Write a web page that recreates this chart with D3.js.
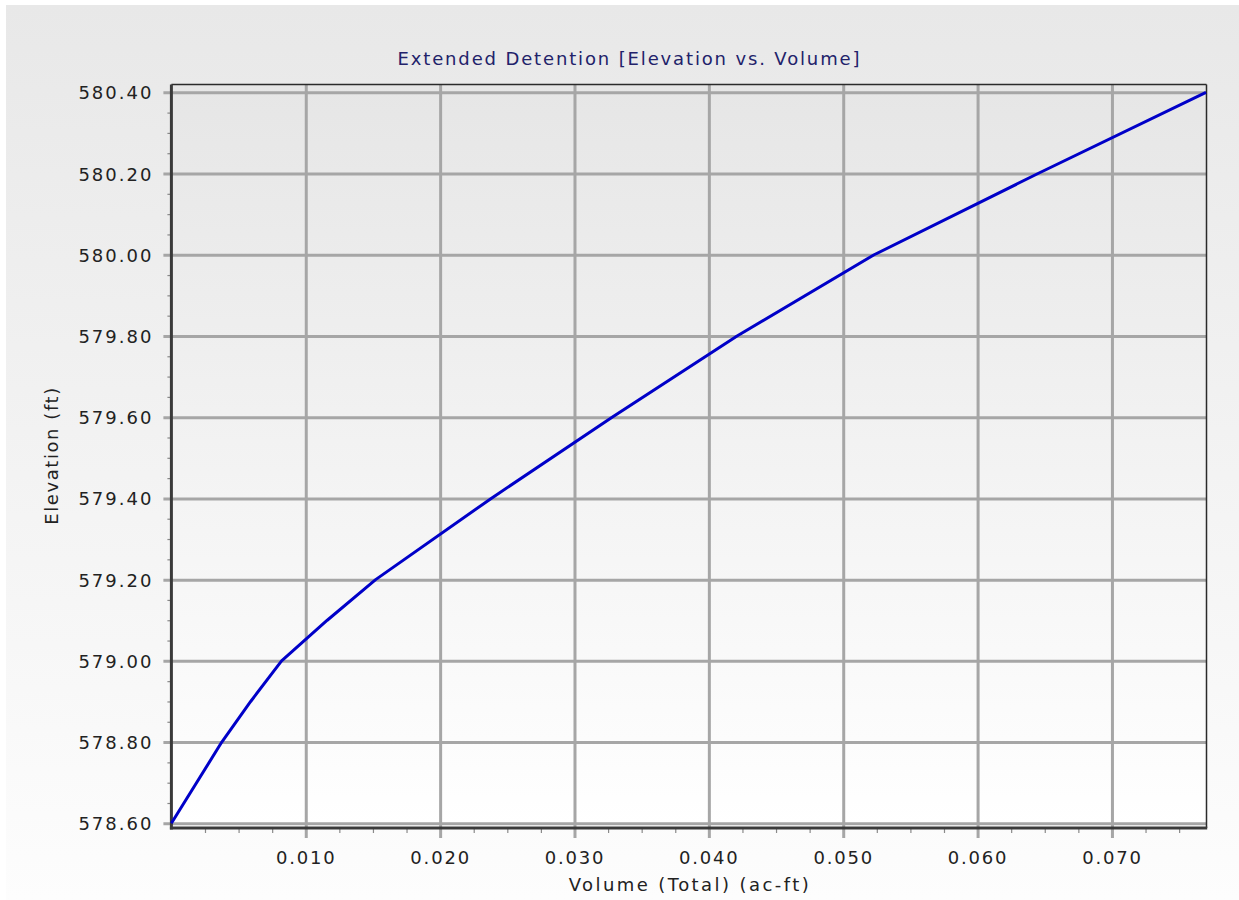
<!DOCTYPE html>
<html>
<head>
<meta charset="utf-8">
<script src="https://cdn.jsdelivr.net/npm/d3@7"></script>
<style>
  html, body { margin: 0; padding: 0; background: #ffffff; }
  svg { display: block; }
</style>
</head>
<body>
<svg id="chart" width="1239" height="900"></svg>
<script>
// ---- Data ----
const volume    = [0.0000, 0.00375, 0.0059, 0.0082, 0.0116, 0.0152, 0.0238, 0.0328, 0.0421, 0.0523, 0.0645, 0.0770];
const elevation = [578.60, 578.80, 578.90, 579.00, 579.10, 579.20, 579.40, 579.60, 579.80, 580.00, 580.20, 580.40];
const xTickValues = [0.010, 0.020, 0.030, 0.040, 0.050, 0.060, 0.070];
const yTickValues = [578.60, 578.80, 579.00, 579.20, 579.40, 579.60, 579.80, 580.00, 580.20, 580.40];
const xMinorStep = 0.0025;
const yMinorStep = 0.05;
const titleText = "Extended Detention [Elevation vs. Volume]";
const xTitle = "Volume (Total) (ac-ft)";
const yTitle = "Elevation (ft)";

// ---- Layout ----
const svg = d3.select("#chart");
const W = 1239, H = 900;
const plot = { left: 171.4, right: 1206, top: 84.5, bottom: 828 };

const x = d3.scaleLinear().domain([0, 0.0770]).range([plot.left, plot.right]);
const y = d3.scaleLinear().domain([578.60, 580.40]).range([823.3, 92.3]);

const defs = svg.append("defs");
const g1 = defs.append("linearGradient").attr("id", "panelGrad").attr("x1", 0).attr("y1", 0).attr("x2", 0).attr("y2", 1);
g1.append("stop").attr("offset", "0%").attr("stop-color", "#e8e8e8");
g1.append("stop").attr("offset", "100%").attr("stop-color", "#fdfdfd");
const g2 = defs.append("linearGradient").attr("id", "plotGrad").attr("x1", 0).attr("y1", 0).attr("x2", 0).attr("y2", 1);
g2.append("stop").attr("offset", "0%").attr("stop-color", "#e6e6e6");
g2.append("stop").attr("offset", "100%").attr("stop-color", "#ffffff");

// outer panel
svg.append("rect").attr("x", 6).attr("y", 5).attr("width", W - 6).attr("height", H - 5).attr("fill", "url(#panelGrad)");
// plot area
svg.append("rect").attr("x", plot.left).attr("y", plot.top)
  .attr("width", plot.right - plot.left).attr("height", plot.bottom - plot.top)
  .attr("fill", "url(#plotGrad)");

const fontFam = "'DejaVu Sans', Verdana, sans-serif";

// minor ticks
const xMinor = d3.range(xMinorStep, 0.0770, xMinorStep).filter(v => Math.abs(v / 0.01 - Math.round(v / 0.01)) > 1e-6);
const yMinor = d3.range(578.60 + yMinorStep, 580.40, yMinorStep).filter(v => Math.abs((v - 578.6) / 0.2 - Math.round((v - 578.6) / 0.2)) > 1e-6);

svg.append("g").attr("transform", `translate(0,${plot.bottom})`)
  .call(d3.axisBottom(x).tickValues(xMinor).tickSize(5).tickFormat(""))
  .call(g => g.select(".domain").remove())
  .call(g => g.selectAll(".tick line").attr("stroke", "#8a8a8a").attr("stroke-width", 1.2));

svg.append("g").attr("transform", `translate(${plot.left - 1},0)`)
  .call(d3.axisLeft(y).tickValues(yMinor).tickSize(3).tickFormat(""))
  .call(g => g.select(".domain").remove())
  .call(g => g.selectAll(".tick line").attr("stroke", "#8a8a8a").attr("stroke-width", 1.2));

// major grid lines via axes
svg.append("g").attr("transform", `translate(0,${plot.bottom + 10})`)
  .call(d3.axisBottom(x).tickValues(xTickValues).tickSize(-(plot.bottom + 10 - plot.top)).tickFormat(""))
  .call(g => g.select(".domain").remove())
  .call(g => g.selectAll(".tick line").attr("stroke", "#a6a6a6").attr("stroke-width", 3));

svg.append("g").attr("transform", `translate(${plot.left - 8},0)`)
  .call(d3.axisLeft(y).tickValues(yTickValues).tickSize(-(plot.right - plot.left + 8)).tickFormat(""))
  .call(g => g.select(".domain").remove())
  .call(g => g.selectAll(".tick line").attr("stroke", "#a6a6a6").attr("stroke-width", 3));

// tick labels
svg.append("g").attr("transform", `translate(0,${plot.bottom})`)
  .call(d3.axisBottom(x).tickValues(xTickValues).tickSize(0).tickPadding(0).tickFormat(d3.format(".3f")))
  .call(g => g.select(".domain").remove())
  .call(g => g.selectAll(".tick text").attr("y", 36).attr("dy", null)
    .attr("fill", "#222").attr("font-family", fontFam).attr("font-size", 18)
    .attr("letter-spacing", "1.8px"));

svg.append("g").attr("transform", `translate(${plot.left},0)`)
  .call(d3.axisLeft(y).tickValues(yTickValues).tickSize(0).tickPadding(0).tickFormat(d3.format(".2f")))
  .call(g => g.select(".domain").remove())
  .call(g => g.selectAll(".tick text").attr("x", -18).attr("dy", "0.36em")
    .attr("fill", "#222").attr("font-family", fontFam).attr("font-size", 18)
    .attr("letter-spacing", "2px"));

// frame: top and right thin, left and bottom thick
svg.append("line").attr("x1", plot.left).attr("x2", plot.right + 0.5).attr("y1", plot.top).attr("y2", plot.top)
  .attr("stroke", "#2a2a2a").attr("stroke-width", 1.5);
svg.append("line").attr("x1", plot.right + 0.5).attr("x2", plot.right + 0.5).attr("y1", plot.top).attr("y2", plot.bottom)
  .attr("stroke", "#2a2a2a").attr("stroke-width", 1.5);
svg.append("line").attr("x1", plot.left).attr("x2", plot.left).attr("y1", plot.top).attr("y2", plot.bottom + 1.5)
  .attr("stroke", "#3a3a3a").attr("stroke-width", 3);
svg.append("line").attr("x1", plot.left - 1.5).attr("x2", plot.right + 1.2).attr("y1", plot.bottom).attr("y2", plot.bottom)
  .attr("stroke", "#3a3a3a").attr("stroke-width", 3);

// data line
const pts = volume.map((v, i) => [v, elevation[i]]);
svg.append("path").datum(pts)
  .attr("fill", "none").attr("stroke", "#0000c8").attr("stroke-width", 3)
  .attr("stroke-linejoin", "round")
  .attr("d", d3.line().x(d => x(d[0])).y(d => y(d[1])));

// titles
svg.append("text").attr("x", 628.5).attr("y", 65).attr("text-anchor", "middle")
  .attr("fill", "#22226a").attr("font-family", fontFam).attr("font-size", 18)
  .attr("textLength", 462).attr("lengthAdjust", "spacing")
  .text(titleText);

svg.append("text").attr("x", (plot.left + plot.right) / 2).attr("y", 891).attr("text-anchor", "middle")
  .attr("fill", "#222").attr("font-family", fontFam).attr("font-size", 18)
  .attr("textLength", 240).attr("lengthAdjust", "spacing")
  .text(xTitle);

svg.append("text").attr("transform", `translate(58,${(plot.top + plot.bottom) / 2}) rotate(-90)`)
  .attr("text-anchor", "middle")
  .attr("fill", "#222").attr("font-family", fontFam).attr("font-size", 18)
  .attr("textLength", 137).attr("lengthAdjust", "spacing")
  .text(yTitle);
</script>
</body>
</html>
